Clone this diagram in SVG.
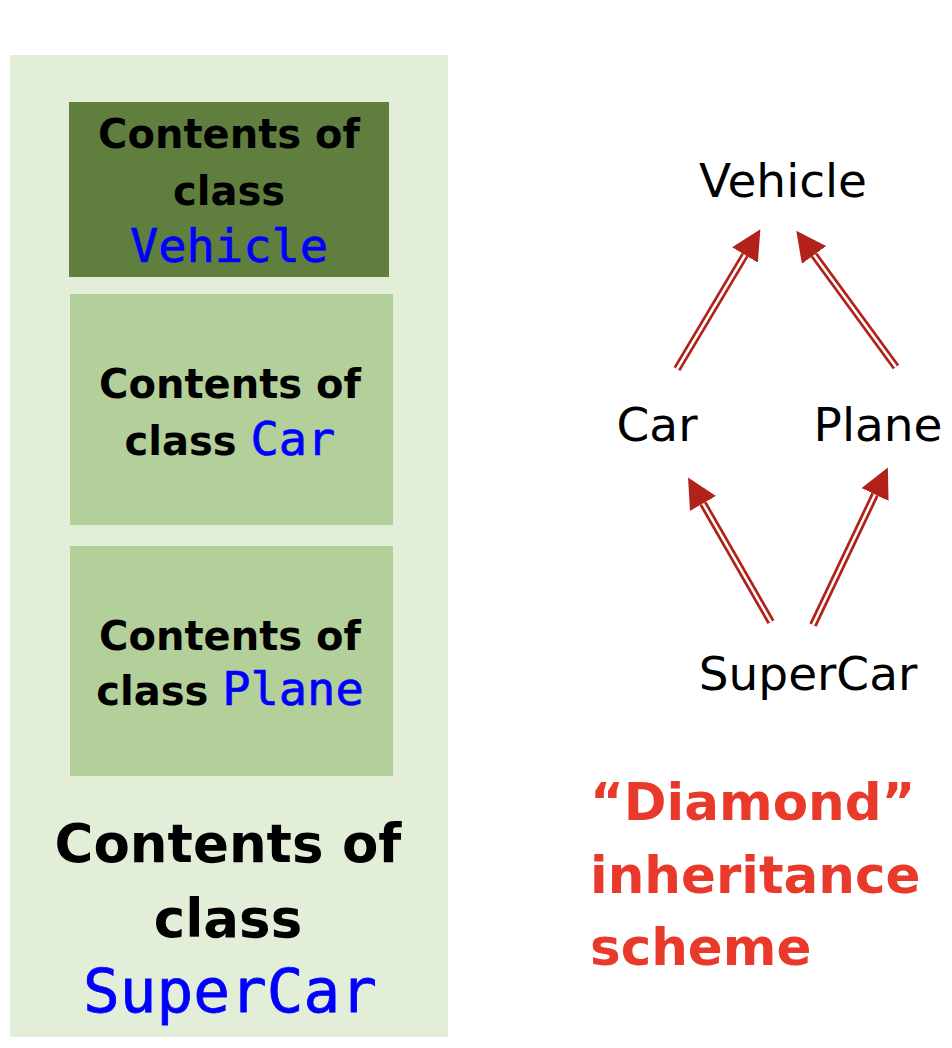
<svg xmlns="http://www.w3.org/2000/svg" width="952" height="1048" viewBox="0 0 952 1048">
<style>
.h{font-family:"DejaVu Sans","Liberation Sans",sans-serif;font-weight:bold;fill:#000;text-anchor:middle}
.m{font-family:"DejaVu Sans Mono","Liberation Mono",monospace;fill:#0000ff}
.n{font-family:"DejaVu Sans","Liberation Sans",sans-serif;font-size:47px;fill:#000;text-anchor:middle}
.r{font-family:"DejaVu Sans","Liberation Sans",sans-serif;font-weight:bold;font-size:51.5px;fill:#e8392b}
.shaft{stroke:#b0221a;stroke-width:8;fill:none}
.gap{stroke:#fff;stroke-width:2.5;fill:none}
</style>
<defs>
<marker id="ah" markerUnits="userSpaceOnUse" viewBox="0 0 30 30" markerWidth="30" markerHeight="30" refX="0" refY="15" orient="auto">
<path d="M0,0 L30,15 L0,30 z" fill="#b0221a"/>
</marker>
</defs>
<rect width="952" height="1048" fill="#fff"/>
<g id="supercar-box">
<rect x="10" y="55" width="438" height="982" fill="#e3eed9"/>
<text class="h" x="228" y="862" font-size="53">Contents of</text>
<text class="h" x="228" y="937" font-size="53">class</text>
<text class="m" x="230" y="1012" font-size="61" text-anchor="middle" stroke="#0000ff" stroke-width="0.8">SuperCar</text>
</g>
<g id="vehicle-box">
<rect x="69" y="102" width="320" height="175" fill="#607f3f"/>
<text class="h" x="229" y="148" font-size="40">Contents of</text>
<text class="h" x="229" y="205" font-size="40">class</text>
<text class="m" x="229" y="262" font-size="47" text-anchor="middle" stroke="#0000ff" stroke-width="0.7">Vehicle</text>
</g>
<g id="car-box">
<rect x="70" y="294" width="323" height="231" fill="#b3d09a"/>
<text class="h" x="230" y="398" font-size="40">Contents of</text>
<text class="h" x="230" y="455" font-size="40">class <tspan class="m" font-weight="normal" font-size="47" stroke="#0000ff" stroke-width="0.7">Car</tspan></text>
</g>
<g id="plane-box">
<rect x="70" y="546" width="323" height="230" fill="#b3d09a"/>
<text class="h" x="230" y="650" font-size="40">Contents of</text>
<text class="h" x="230" y="705" font-size="40">class <tspan class="m" font-weight="normal" font-size="47" stroke="#0000ff" stroke-width="0.7">Plane</tspan></text>
</g>
<g id="node-vehicle"><text class="n" x="783" y="197">Vehicle</text></g>
<g id="node-car"><text class="n" x="657" y="441">Car</text></g>
<g id="node-plane"><text class="n" x="878" y="441">Plane</text></g>
<g id="node-supercar"><text class="n" x="808" y="690">SuperCar</text></g>
<g id="caption">
<text class="r" x="590" y="820">“Diamond”</text>
<text class="r" x="590" y="893">inheritance</text>
<text class="r" x="590" y="965">scheme</text>
</g>
<g id="connectors">
<path class="shaft" d="M677,369 L745,255" marker-end="url(#ah)"/>
<path class="gap" d="M677,369 L745,255"/>
<path class="shaft" d="M896,367 L814,255" marker-end="url(#ah)"/>
<path class="gap" d="M896,367 L814,255"/>
<path class="shaft" d="M771,622 L703,503.5" marker-end="url(#ah)"/>
<path class="gap" d="M771,622 L703,503.5"/>
<path class="shaft" d="M813,625 L875,494.5" marker-end="url(#ah)"/>
<path class="gap" d="M813,625 L875,494.5"/>
</g>
</svg>
